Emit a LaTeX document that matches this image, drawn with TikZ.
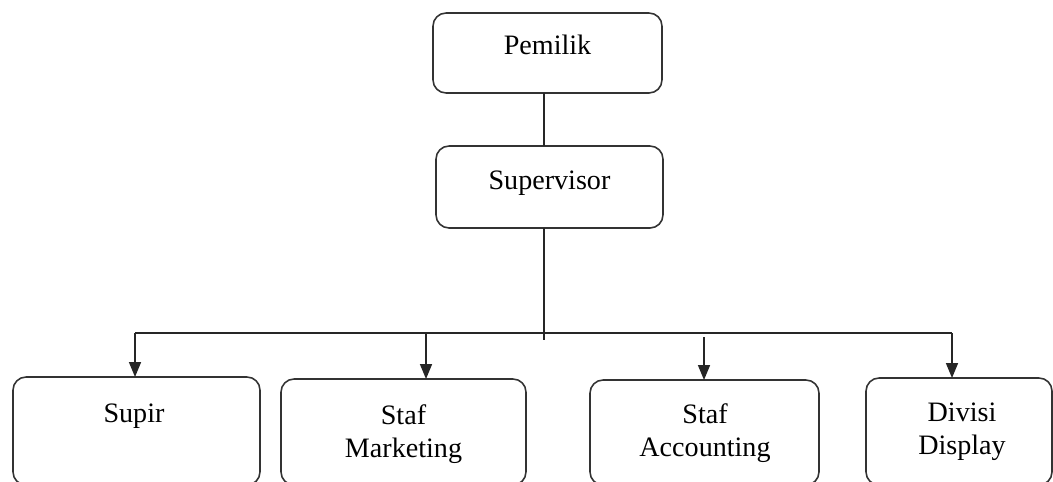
\documentclass[tikz,border=0pt]{standalone}
\usepackage{fontspec}
\setmainfont{Liberation Serif}
\usetikzlibrary{arrows.meta}
\begin{document}
\begin{tikzpicture}[x=0.02cm,y=-0.02cm,
  box/.style={draw=black!80,line width=0.9pt,rounded corners=0.26cm,inner sep=0pt,outer sep=0pt},
  lbl/.style={anchor=north,inner sep=0pt,align=center,font=\fontsize{16}{18.7}\selectfont},
  conn/.style={draw=black!85,line width=0.9pt},
  arr/.style={conn,-{Triangle[width=0.24cm,length=0.3cm]}}]
\useasboundingbox (0,0) rectangle (1053,481);
% boxes
\node[box,minimum width=4.58cm,minimum height=1.6cm] (p) at (547.5,53) {};
\node[box,minimum width=4.54cm,minimum height=1.64cm] (s) at (549.5,187) {};
\node[box,minimum width=4.94cm,minimum height=2.16cm] (b1) at (136.5,431) {};
\node[box,minimum width=4.9cm,minimum height=2.12cm] (b2) at (403.5,432) {};
\node[box,minimum width=4.58cm,minimum height=2.1cm] (b3) at (704.5,432.5) {};
\node[box,minimum width=3.72cm,minimum height=2.14cm] (b4) at (959,431.5) {};
% labels
\node[lbl] (tp) at (547.5,35) {Pemilik};
\node[lbl] (ts) at (549.5,171) {Supervisor};
\node[lbl] (t1) at (134,404) {Supir};
\node[lbl] (t2) at (403.5,404) {Staf\\Marketing};
\node[lbl] (t3) at (705,403) {Staf\\Accounting};
\node[lbl] (t4) at (962,403) {Divisi\\Display};
% connectors
\coordinate (j) at (544,333);
\coordinate (jend) at (544,340);
\coordinate (a1) at (135,333);
\coordinate (a2) at (426,333);
\coordinate (a3) at (704,337);
\coordinate (a4) at (952,333);
\draw[conn] (p.south -| j) -- (s.north -| j);
\draw[conn] (s.south -| j) -- (jend);
\draw[conn] (a1) -- (a4);
\draw[arr] (a1) -- (a1 |- b1.north);
\draw[arr] (a2) -- (a2 |- b2.north);
\draw[arr] (a3) -- (a3 |- b3.north);
\draw[arr] (a4) -- (a4 |- b4.north);
\end{tikzpicture}
\end{document}
